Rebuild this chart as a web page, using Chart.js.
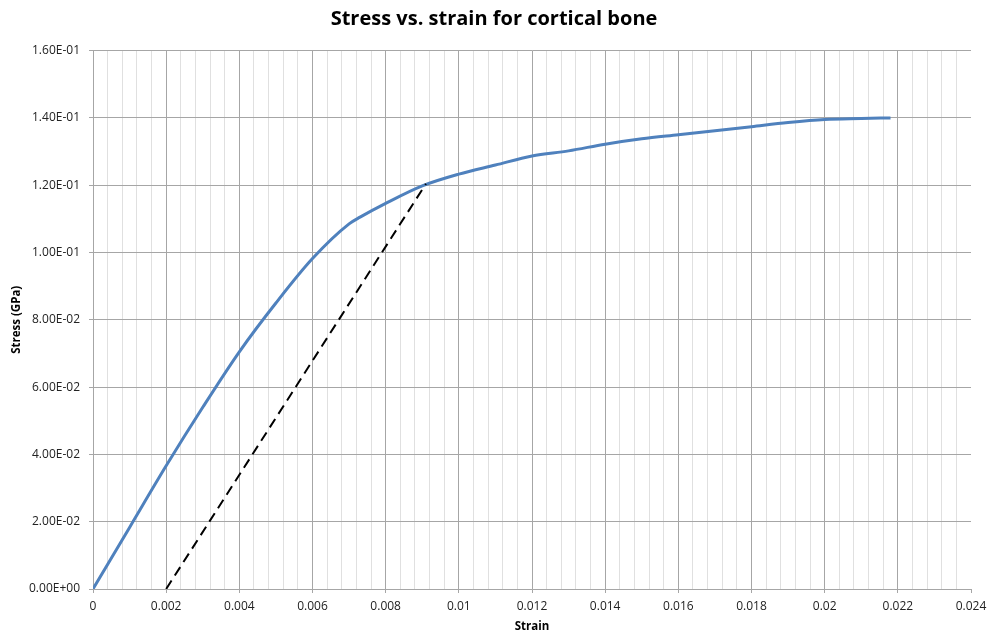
<!DOCTYPE html>
<html>
<head>
<meta charset="utf-8">
<script src="https://cdn.jsdelivr.net/npm/chart.js@4.4.1/dist/chart.umd.min.js"></script>
<style>
  html, body { margin: 0; padding: 0; background: #fff; }
  #wrap { width: 988px; height: 635px; position: relative; }
</style>
</head>
<body>
<div id="wrap"><canvas id="chart"></canvas></div>
<script>
// curva tension-deformacion
const strain = [0, 0.001, 0.002, 0.003, 0.004, 0.005, 0.006, 0.007, 0.0073, 0.008, 0.009, 0.01,
  0.011, 0.012, 0.013, 0.014, 0.015, 0.016, 0.017, 0.018, 0.019, 0.02, 0.021, 0.0218];
const stress = [0, 0.0183, 0.0366, 0.054, 0.0705, 0.085, 0.0982, 0.1085, 0.1105, 0.1146, 0.1198, 0.1233,
  0.126, 0.1287, 0.1302, 0.1322, 0.1338, 0.135, 0.1362, 0.1374, 0.1386, 0.1395, 0.1398, 0.14];

// linea de offset 0.2%
const offsetStrain = [0.002, 0.0091];
const offsetStress = [0, 0.1204];

const xMax = 0.024, xMajor = 0.002, xMinor = 0.0004;
const yMax = 0.16, yMajor = 0.02;

const MAJOR = '#a6a6a6';
const MINOR = '#e0e0e0';

function toPoints(xs, ys) {
  return xs.map((x, i) => ({ x: x, y: ys[i] }));
}

function sci(v) {
  const [m, e] = v.toExponential(2).split('e');
  const sign = e[0] === '-' ? '-' : '+';
  const digits = e.replace(/[+-]/, '').padStart(2, '0');
  return m + 'E' + sign + digits;
}

const isMajorX = v => Math.round(v / xMinor) % 5 === 0;

new Chart(document.getElementById('chart'), {
  type: 'scatter',
  data: {
    datasets: [
      {
        data: toPoints(strain, stress),
        showLine: true,
        borderColor: '#4f81bd',
        borderWidth: 3,
        pointRadius: 0,
        cubicInterpolationMode: 'monotone',
        order: 2
      },
      {
        data: toPoints(offsetStrain, offsetStress),
        showLine: true,
        borderColor: '#000000',
        borderWidth: 2,
        borderDash: [10, 6],
        pointRadius: 0,
        order: 1
      }
    ]
  },
  options: {
    responsive: true,
    maintainAspectRatio: false,
    animation: false,
    layout: { padding: 0 },
    plugins: {
      legend: { display: false },
      tooltip: { enabled: false },
      title: {
        display: true,
        text: 'Stress vs. strain for cortical bone',
        color: '#000',
        font: { family: 'Open Sans', size: 20, weight: 'bold' },
        padding: { top: 7, bottom: 19.6 }
      }
    },
    scales: {
      x: {
        type: 'linear',
        min: 0,
        max: xMax,
        afterBuildTicks: s => {
          const t = [];
          for (let i = 0; i <= Math.round(xMax / xMinor); i++) t.push({ value: i * xMinor });
          s.ticks = t;
        },
        afterFit: s => { s.height = 46; s.paddingLeft = 0; s.paddingRight = 17; },
        ticks: {
          autoSkip: false,
          maxRotation: 0,
          padding: 6,
          color: '#222',
          font: { family: 'Open Sans', size: 12 },
          callback: v => isMajorX(v) ? String(parseFloat(v.toFixed(4))) : ''
        },
        grid: {
          tickLength: 4,
          color: c => {
            const v = c.tick.value;
            if (Math.abs(v - xMax) < 1e-9) return 'rgba(0,0,0,0)';
            return isMajorX(v) ? MAJOR : MINOR;
          },
          tickColor: c => isMajorX(c.tick.value) ? MAJOR : 'rgba(0,0,0,0)'
        },
        border: { color: MAJOR },
        title: {
          display: true,
          text: 'Strain',
          color: '#000',
          font: { family: 'Open Sans', size: 11.5, weight: 'bold' },
          padding: { top: 0, bottom: 1 }
        }
      },
      y: {
        type: 'linear',
        min: 0,
        max: yMax,
        afterBuildTicks: s => {
          const t = [];
          for (let i = 0; i <= Math.round(yMax / yMajor); i++) t.push({ value: i * yMajor });
          s.ticks = t;
        },
        afterFit: s => { s.width = 93; },
        ticks: {
          padding: 9,
          color: '#222',
          font: { family: 'Open Sans', size: 12 },
          callback: v => sci(v)
        },
        grid: { tickLength: 4, color: MAJOR, tickColor: MAJOR },
        border: { color: MAJOR },
        title: {
          display: true,
          text: 'Stress (GPa)',
          color: '#000',
          font: { family: 'Open Sans', size: 11.5, weight: 'bold' },
          padding: { top: 10, bottom: 0 }
        }
      }
    }
  }
});
</script>
</body>
</html>
